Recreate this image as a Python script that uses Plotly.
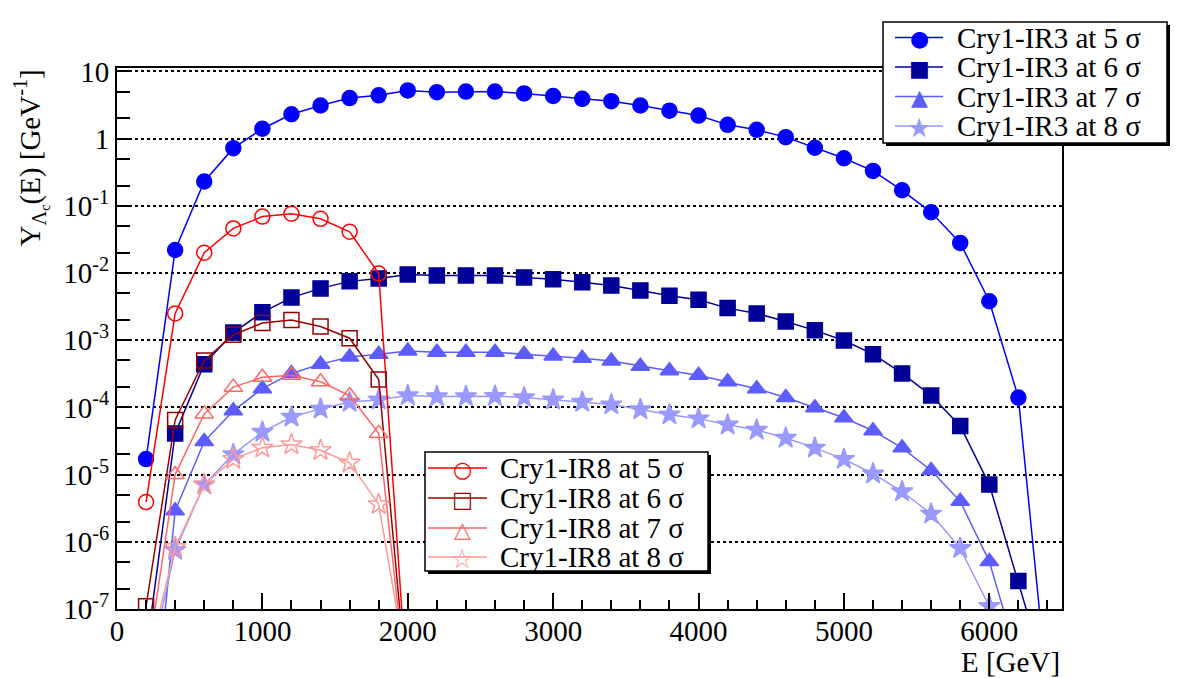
import plotly.graph_objects as go

E_ir3 = [200, 400, 600, 800, 1000, 1200, 1400, 1600, 1800, 2000, 2200, 2400, 2600, 2800, 3000,
         3200, 3400, 3600, 3800, 4000, 4200, 4400, 4600, 4800, 5000, 5200, 5400, 5600, 5800,
         6000, 6200, 6400]
ir3_5 = [1.7e-5, 0.022, 0.23, 0.72, 1.4, 2.3, 3.1, 4.0, 4.4, 5.2, 4.9, 5.0, 5.0, 4.7, 4.3,
         3.9, 3.6, 3.1, 2.6, 2.2, 1.6, 1.35, 1.05, 0.73, 0.51, 0.33, 0.17, 0.08, 0.028,
         0.0038, 1.4e-4, 6e-9]
ir3_6 = [2.2e-8, 4.1e-5, 4.4e-4, 1.3e-3, 2.6e-3, 4.3e-3, 5.9e-3, 7.5e-3, 8.3e-3, 9.5e-3, 9.2e-3,
         9.2e-3, 9.2e-3, 8.6e-3, 8.1e-3, 7.3e-3, 6.5e-3, 5.5e-3, 4.6e-3, 4.0e-3, 3.0e-3, 2.5e-3,
         1.9e-3, 1.4e-3, 9.9e-4, 6.2e-4, 3.2e-4, 1.5e-4, 5.3e-5, 7.1e-6, 2.6e-7, 8.6e-9]
ir3_7 = [1.4e-10, 2.9e-6, 3.1e-5, 8.9e-5, 1.9e-4, 3.2e-4, 4.4e-4, 5.6e-4, 6.2e-4, 6.9e-4, 6.6e-4,
         6.6e-4, 6.6e-4, 6.2e-4, 5.8e-4, 5.4e-4, 4.9e-4, 4.1e-4, 3.5e-4, 3.0e-4, 2.4e-4, 1.9e-4,
         1.4e-4, 9.9e-5, 7.0e-5, 4.5e-5, 2.5e-5, 1.15e-5, 4.0e-6, 5.1e-7, 1.7e-8, 1e-10]
ir3_8 = [8.6e-9, 7.5e-7, 7.1e-6, 2.0e-5, 4.3e-5, 7.2e-5, 9.5e-5, 1.2e-4, 1.3e-4, 1.5e-4, 1.45e-4,
         1.45e-4, 1.47e-4, 1.4e-4, 1.3e-4, 1.2e-4, 1.1e-4, 9.3e-5, 7.8e-5, 6.8e-5, 5.5e-5, 4.6e-5,
         3.5e-5, 2.5e-5, 1.7e-5, 1.03e-5, 5.6e-6, 2.6e-6, 8.0e-7, 1.1e-7, 5.4e-8, 1e-10]

E_ir8 = [200, 400, 600, 800, 1000, 1200, 1400, 1600, 1800, 2000]
ir8_5 = [3.9e-6, 2.5e-3, 0.020, 0.046, 0.069, 0.076, 0.064, 0.041, 0.0098, 5e-9]
ir8_6 = [1.1e-7, 6.5e-5, 5.0e-4, 1.2e-3, 1.8e-3, 2.0e-3, 1.6e-3, 1.07e-3, 2.6e-4, 5e-9]
ir8_7 = [1.3e-8, 1.0e-5, 8.0e-5, 2.0e-4, 2.8e-4, 3.0e-4, 2.4e-4, 1.5e-4, 4.1e-5, 5e-9]
ir8_8 = [1.4e-8, 8.3e-7, 7.1e-6, 1.7e-5, 2.5e-5, 2.8e-5, 2.3e-5, 1.5e-5, 3.6e-6, 1.1e-8]

ytick_vals = [1e-7, 1e-6, 1e-5, 1e-4, 1e-3, 1e-2, 1e-1, 1, 10]
ytick_text = ["10<sup>-7</sup>", "10<sup>-6</sup>", "10<sup>-5</sup>", "10<sup>-4</sup>",
              "10<sup>-3</sup>", "10<sup>-2</sup>", "10<sup>-1</sup>", "1", "10"]

legend_names_ir3 = ["Cry1-IR3 at 5 σ", "Cry1-IR3 at 6 σ", "Cry1-IR3 at 7 σ", "Cry1-IR3 at 8 σ"]
legend_names_ir8 = ["Cry1-IR8 at 5 σ", "Cry1-IR8 at 6 σ", "Cry1-IR8 at 7 σ", "Cry1-IR8 at 8 σ"]

FONT = "Liberation Serif"

# name, x, y, colour, plotly symbol, marker size, legend glyph, glyph size
series = [
    (legend_names_ir3[0], E_ir3, ir3_5, "#0000ff", "circle", 15, "●", 22),
    (legend_names_ir3[1], E_ir3, ir3_6, "#000099", "square", 15, "■", 22),
    (legend_names_ir3[2], E_ir3, ir3_7, "#5c5cff", "triangle-up", 16, "▲", 22),
    (legend_names_ir3[3], E_ir3, ir3_8, "#9999ff", "star", 16, "★", 27),
    (legend_names_ir8[0], E_ir8, ir8_5, "#ff0000", "circle-open", 15, "○", 22),
    (legend_names_ir8[1], E_ir8, ir8_6, "#990000", "square-open", 15, "□", 22),
    (legend_names_ir8[2], E_ir8, ir8_7, "#ff6666", "triangle-up-open", 16, "△", 22),
    (legend_names_ir8[3], E_ir8, ir8_8, "#ff9999", "star-open", 16, "☆", 27),
]

fig = go.Figure()
for name, xs, ys, col, sym, sz, _g, _gs in series:
    fig.add_trace(go.Scatter(
        x=xs, y=ys, name=name, mode="lines+markers", showlegend=False,
        line=dict(color=col, width=1.5),
        marker=dict(color=col, symbol=sym, size=sz, line=dict(color=col, width=1.5)),
    ))

W, H = 1182, 678
L, R, T, B = 117, 1062, 68, 609
pw, ph = R - L, B - T

def px2x(px):
    return (px - L) / pw

def py2y(py):
    return (B - py) / ph

shapes = []
annotations = []

# custom legends (ROOT-style boxes with shadow)
legend_boxes = [
    dict(box=(883, 22, 1167, 143), rows=[37.5, 67, 96.5, 126], line=(895, 943), glyph=919, text=955,
         items=series[:4]),
    dict(box=(425, 452, 708, 571), rows=[468, 498, 528, 557], line=(428, 487), glyph=462, text=498,
         items=series[4:]),
]
for lb in legend_boxes:
    x0, y0, x1, y1 = lb["box"]
    shapes.append(dict(type="rect", xref="paper", yref="paper", layer="above",
                       x0=px2x(x0 + 3), x1=px2x(x1 + 3), y0=py2y(y1 + 3), y1=py2y(y0 + 3),
                       fillcolor="black", line=dict(width=0)))
    shapes.append(dict(type="rect", xref="paper", yref="paper", layer="above",
                       x0=px2x(x0), x1=px2x(x1), y0=py2y(y1), y1=py2y(y0),
                       fillcolor="white", line=dict(color="black", width=1.5)))
    for ry, (name, _xs, _ys, col, _sym, _sz, glyph, gsize) in zip(lb["rows"], lb["items"]):
        shapes.append(dict(type="line", xref="paper", yref="paper", layer="above",
                           x0=px2x(lb["line"][0]), x1=px2x(lb["line"][1]), y0=py2y(ry), y1=py2y(ry),
                           line=dict(color=col, width=1.5)))
        annotations.append(dict(text=glyph, xref="paper", yref="paper",
                                x=px2x(lb["glyph"]), y=py2y(ry + 1), xanchor="center", yanchor="middle",
                                showarrow=False, font=dict(family="DejaVu Sans", size=gsize, color=col)))
        annotations.append(dict(text=name, xref="paper", yref="paper",
                                x=px2x(lb["text"]), y=py2y(ry), xanchor="left", yanchor="middle",
                                showarrow=False, font=dict(family=FONT, size=29, color="black")))

annotations += [
    dict(text="E [GeV]", xref="paper", yref="paper", x=1.0, y=py2y(662),
         xanchor="right", yanchor="middle", showarrow=False,
         font=dict(family=FONT, size=29)),
    dict(text="Y<sub>Λ<sub>c</sub></sub>(E) [GeV<sup>-1</sup>]", xref="paper", yref="paper",
         x=px2x(31), y=py2y(68), xanchor="center", yanchor="top", textangle=-90,
         showarrow=False, font=dict(family=FONT, size=29)),
]

fig.update_layout(
    width=W, height=H,
    margin=dict(l=L, r=W - R, t=T, b=H - B),
    paper_bgcolor="white", plot_bgcolor="white",
    font=dict(family=FONT, size=29, color="black"),
    showlegend=False,
    xaxis=dict(range=[0, 6500], showgrid=False, zeroline=False,
               showline=True, linecolor="black", linewidth=2, mirror=True,
               ticks="inside", ticklen=16, tickwidth=1.5, tickcolor="black",
               dtick=1000, tick0=0, ticklabelstandoff=-5,
               minor=dict(ticks="inside", ticklen=9, tickwidth=1.5, tickcolor="black", dtick=200),
               tickfont=dict(family=FONT, size=29)),
    yaxis=dict(type="log", range=[-7, 1.05], showline=True, linecolor="black", linewidth=2,
               mirror=True, zeroline=False,
               tickvals=ytick_vals, ticktext=ytick_text,
               ticks="inside", ticklen=14, tickwidth=1.5, tickcolor="black",
               minor=dict(ticks="inside", ticklen=13, tickwidth=1.5, tickcolor="black", showgrid=False),
               showgrid=True, gridcolor="black", griddash="dot", gridwidth=1.5,
               tickfont=dict(family=FONT, size=29)),
    shapes=shapes,
    annotations=annotations,
)

fig.write_html("out.html")
